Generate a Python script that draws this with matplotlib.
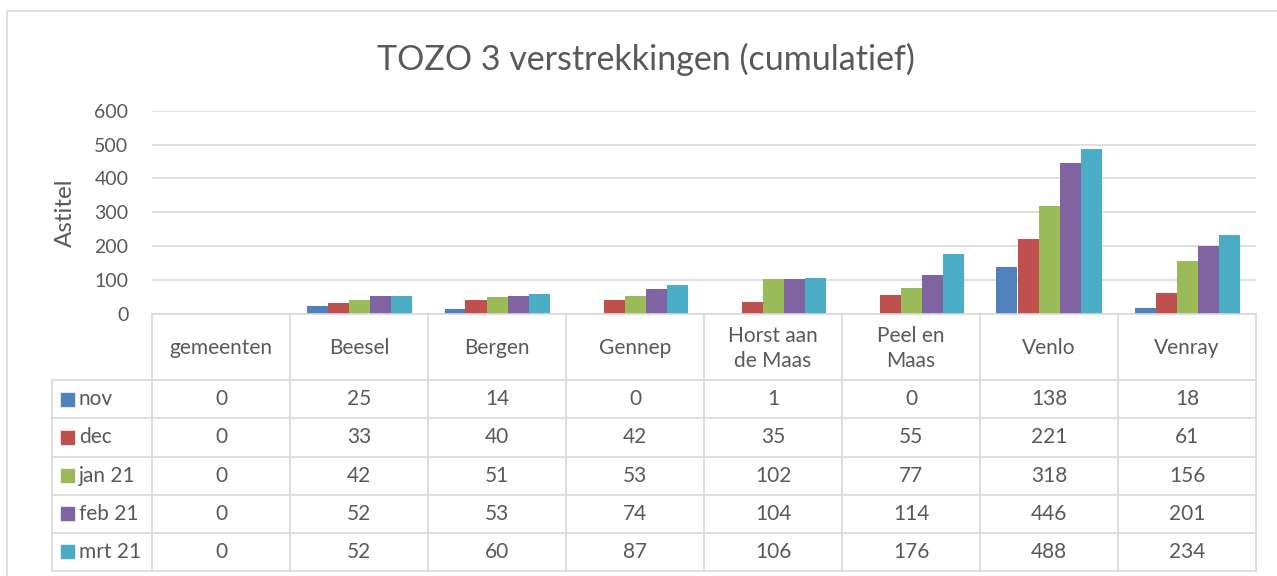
import numpy as np
import matplotlib.pyplot as plt

plt.rcParams['font.family'] = ['Lato', 'DejaVu Sans']

# data
categories = ['gemeenten', 'Beesel', 'Bergen', 'Gennep', 'Horst aan\nde Maas',
              'Peel en\nMaas', 'Venlo', 'Venray']
series = ['nov', 'dec', 'jan 21', 'feb 21', 'mrt 21']
nov = [0, 25, 14, 0, 1, 0, 138, 18]
dec = [0, 33, 40, 42, 35, 55, 221, 61]
jan21 = [0, 42, 51, 53, 102, 77, 318, 156]
feb21 = [0, 52, 53, 74, 104, 114, 446, 201]
mrt21 = [0, 52, 60, 87, 106, 176, 488, 234]
values = [nov, dec, jan21, feb21, mrt21]
colors = ['#4F81BD', '#C0504D', '#9BBB59', '#8064A2', '#4BACC6']

TXT = '#595959'
GRID = '#D9D9D9'
W, H = 1277, 576
FS = 15

fig = plt.figure(figsize=(W / 100, H / 100), dpi=100)

def px_axes(x0, y0, x1, y1):
    return fig.add_axes([x0 / W, 1 - y1 / H, (x1 - x0) / W, (y1 - y0) / H])

# chart border + title
border = px_axes(0, 0, W, H)
border.set_xlim(0, W)
border.set_ylim(H, 0)
border.axis('off')
border.plot([7, 7, W + 5], [H + 5, 11, 11], color=GRID, lw=1.2)
border.text(646, 59, 'TOZO 3 verstrekkingen (cumulatief)', ha='center',
            va='center', fontsize=24.5, color=TXT)

# bar plot area
ax = px_axes(152, 110.7, 1256, 314)
n = len(categories)
x = np.arange(n) + 0.5
bw = 21 / 138
for i, (vals, c) in enumerate(zip(values, colors)):
    ax.bar(x + (i - 2) * bw, vals, width=bw, color=c, zorder=3)
ax.set_xlim(0, n)
ax.set_ylim(0, 600)
ax.set_yticks(range(0, 601, 100))
ax.yaxis.grid(True, color=GRID, lw=1.2, zorder=0)
ax.set_xticks([])
for s in ax.spines.values():
    s.set_visible(False)
ax.tick_params(axis='y', length=0, labelsize=14, labelcolor=TXT, pad=17)
ax.set_ylabel('Astitel', fontsize=17.5, color=TXT, labelpad=13)

# data table
leg_w = 100 / 138
head_h = 66
row_h = 38
tab = px_axes(52, 314, 1256, 571)
tab.set_xlim(-leg_w, n)
tab.set_ylim(head_h + row_h * len(series), 0)
tab.axis('off')
lk = dict(color=GRID, lw=1.2, clip_on=False)
tab.plot([0, n], [0, 0], **lk)
for j in range(len(series) + 1):
    y = head_h + j * row_h
    tab.plot([-leg_w, n], [y, y], **lk)
tab.plot([-leg_w, -leg_w], [head_h, head_h + row_h * len(series)], **lk)
for k in range(n + 1):
    tab.plot([k, k], [0, head_h + row_h * len(series)], **lk)
for k, cat in enumerate(categories):
    tab.text(k + 0.5, head_h / 2 + 1, cat, ha='center', va='center',
             fontsize=FS, color=TXT, linespacing=1.3)
for j, (name, vals, c) in enumerate(zip(series, values, colors)):
    yc = head_h + (j + 0.5) * row_h
    tab.add_patch(plt.Rectangle((-leg_w + 9 / 138, yc - 6.5), 13 / 138, 13,
                                color=c, clip_on=False))
    tab.text(-leg_w + 27 / 138, yc, name, ha='left', va='center',
             fontsize=FS, color=TXT)
    for k, v in enumerate(vals):
        tab.text(k + 0.5, yc, str(v), ha='center', va='center',
                 fontsize=FS, color=TXT)

fig.savefig('out.png', dpi=100, facecolor='white')
